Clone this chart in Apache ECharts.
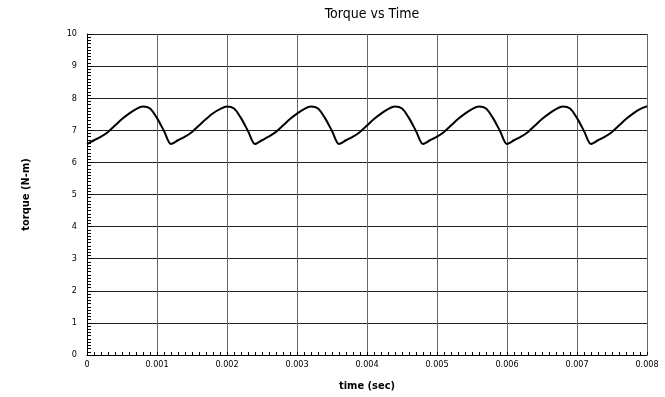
<!DOCTYPE html>
<html>
<head>
<meta charset="utf-8">
<script src="https://cdn.jsdelivr.net/npm/echarts@6/dist/echarts.min.js"></script>
<style>
  html, body { margin: 0; padding: 0; background: #fff; }
  #chart { width: 665px; height: 397px; }
</style>
</head>
<body>
<div id="chart"></div>
<script>
// time samples (sec), one every 0.0001
var timeValues = [
  0, 0.0001, 0.0002, 0.0003, 0.0004, 0.0005, 0.0006, 0.0007, 0.0008, 0.0009,
  0.001, 0.0011, 0.0012, 0.0013, 0.0014, 0.0015, 0.0016, 0.0017, 0.0018, 0.0019,
  0.002, 0.0021, 0.0022, 0.0023, 0.0024, 0.0025, 0.0026, 0.0027, 0.0028, 0.0029,
  0.003, 0.0031, 0.0032, 0.0033, 0.0034, 0.0035, 0.0036, 0.0037, 0.0038, 0.0039,
  0.004, 0.0041, 0.0042, 0.0043, 0.0044, 0.0045, 0.0046, 0.0047, 0.0048, 0.0049,
  0.005, 0.0051, 0.0052, 0.0053, 0.0054, 0.0055, 0.0056, 0.0057, 0.0058, 0.0059,
  0.006, 0.0061, 0.0062, 0.0063, 0.0064, 0.0065, 0.0066, 0.0067, 0.0068, 0.0069,
  0.007, 0.0071, 0.0072, 0.0073, 0.0074, 0.0075, 0.0076, 0.0077, 0.0078, 0.0079,
  0.008
];
// torque (N-m)
var torqueValues = [
  6.57, 6.69, 6.80, 6.95, 7.15, 7.35, 7.52, 7.66, 7.74, 7.68,
  7.38, 6.98, 6.57, 6.69, 6.80, 6.95, 7.15, 7.35, 7.53, 7.66,
  7.74, 7.68, 7.38, 6.98, 6.57, 6.69, 6.81, 6.95, 7.15, 7.35,
  7.52, 7.66, 7.74, 7.68, 7.38, 6.98, 6.57, 6.69, 6.80, 6.95,
  7.15, 7.35, 7.52, 7.66, 7.74, 7.68, 7.38, 6.98, 6.57, 6.69,
  6.80, 6.95, 7.15, 7.35, 7.52, 7.66, 7.74, 7.68, 7.38, 6.98,
  6.57, 6.69, 6.80, 6.95, 7.15, 7.35, 7.52, 7.66, 7.74, 7.68,
  7.38, 6.98, 6.57, 6.69, 6.80, 6.95, 7.15, 7.35, 7.52, 7.66,
  7.75
];
var xTickLabels = ['0', '0.001', '0.002', '0.003', '0.004', '0.005', '0.006', '0.007', '0.008'];

var fontName = '"DejaVu Sans Condensed", "DejaVu Sans", sans-serif';
var chart = echarts.init(document.getElementById('chart'));

var seriesData = [];
for (var i = 0; i < timeValues.length; i++) {
  seriesData.push([timeValues[i], torqueValues[i]]);
}

var option = {
  animation: false,
  backgroundColor: '#fff',
  title: {
    text: 'Torque vs Time',
    left: 367,
    textAlign: 'center',
    top: 2,
    textStyle: { fontFamily: fontName, fontSize: 14, fontWeight: 'normal', color: '#000' }
  },
  grid: { left: 87, right: 18, top: 34, bottom: 42 },
  xAxis: {
    type: 'value',
    min: 0,
    max: 0.008,
    interval: 0.001,
    name: 'time (sec)',
    nameLocation: 'middle',
    nameGap: 26,
    nameTextStyle: { fontFamily: fontName, fontSize: 11, fontWeight: 'bold', color: '#000' },
    axisLine: { show: true, onZero: false, lineStyle: { color: '#000', width: 1 } },
    axisTick: { show: true, inside: true, length: 3, lineStyle: { color: '#000' } },
    minorTick: { show: true, splitNumber: 10, length: 3, lineStyle: { color: '#000' } },
    axisLabel: {
      fontFamily: fontName, fontSize: 9, color: '#000', margin: 5,
      formatter: function (v) {
        var idx = Math.round(v / 0.001);
        return xTickLabels[idx] !== undefined ? xTickLabels[idx] : '';
      }
    },
    splitLine: { show: true, lineStyle: { color: '#666', width: 1 } }
  },
  yAxis: {
    type: 'value',
    min: 0,
    max: 10,
    interval: 1,
    name: 'torque (N-m)',
    nameLocation: 'middle',
    nameGap: 55,
    nameTextStyle: { fontFamily: fontName, fontSize: 11, fontWeight: 'bold', color: '#000' },
    axisLine: { show: true, lineStyle: { color: '#000', width: 1 } },
    axisTick: { show: true, inside: true, length: 5, lineStyle: { color: '#000' } },
    minorTick: { show: true, splitNumber: 10, length: 4, lineStyle: { color: '#000' } },
    axisLabel: { fontFamily: fontName, fontSize: 9, color: '#000', margin: 10 },
    splitLine: { show: true, lineStyle: { color: '#222', width: 1 } }
  },
  series: [
    {
      type: 'line',
      data: seriesData,
      showSymbol: false,
      smooth: 0.3,
      lineStyle: { color: '#000', width: 2 }
    }
  ]
};
chart.setOption(option);
</script>
</body>
</html>
